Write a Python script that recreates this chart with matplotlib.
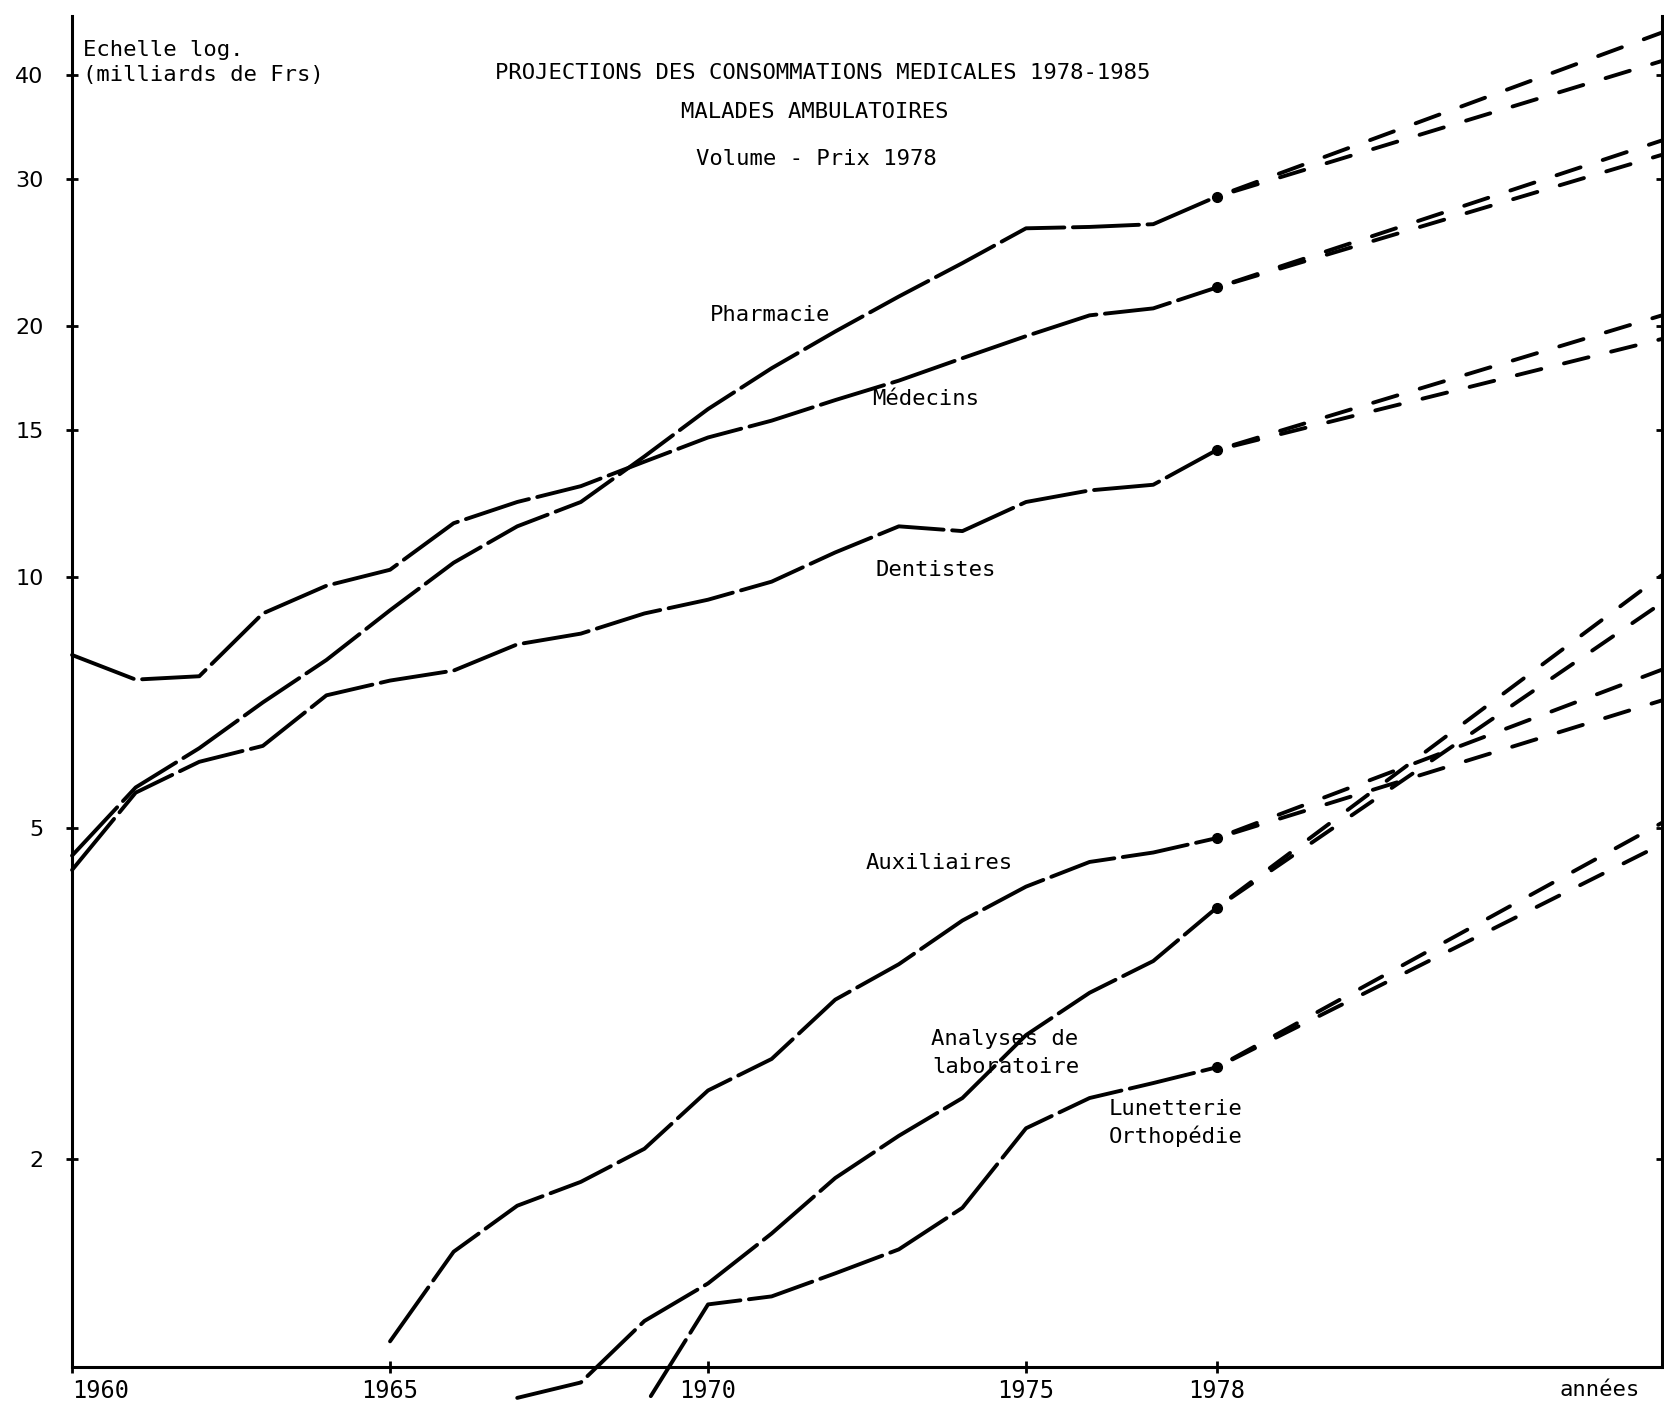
import numpy as np
import matplotlib
matplotlib.use("Agg")
import matplotlib.pyplot as plt
from matplotlib.ticker import NullLocator

# values (milliards de Frs, volume prix 1978)
years = np.arange(1960, 1979)
pharmacie = [4.63, 5.59, 6.23, 7.07, 7.95, 9.12, 10.4, 11.5, 12.3, 13.95,
             15.9, 17.8, 19.7, 21.7, 23.8, 26.2, 26.3, 26.5, 28.6]
medecins = [8.06, 7.53, 7.60, 9.04, 9.76, 10.2, 11.6, 12.3, 12.85, 13.75,
            14.7, 15.4, 16.3, 17.2, 18.3, 19.45, 20.6, 21.0, 22.25]
dentistes = [4.45, 5.51, 6.0, 6.27, 7.21, 7.51, 7.72, 8.30, 8.55, 9.04,
             9.39, 9.87, 10.7, 11.5, 11.35, 12.3, 12.7, 12.9, 14.2]

aux_years = np.arange(1965, 1979)
auxiliaires = [1.21, 1.55, 1.76, 1.88, 2.06, 2.42, 2.64, 3.11, 3.43, 3.87,
               4.25, 4.55, 4.67, 4.86]

labo_years = np.arange(1967, 1979)
laboratoire = [1.035, 1.08, 1.28, 1.42, 1.63, 1.90, 2.135, 2.37, 2.82, 3.17,
               3.46, 4.01]

lunet_years = [1969.1, 1970, 1971, 1972, 1973, 1974, 1975, 1976, 1977, 1978]
lunetterie = [1.04, 1.34, 1.37, 1.46, 1.56, 1.75, 2.18, 2.37, 2.47, 2.58]

# projections 1978-1985 : hypothese haute / basse
proj_years = [1978, 1985]
proj_pharmacie = (45.0, 41.6)
proj_medecins = (33.4, 32.1)
proj_dentistes = (20.6, 19.3)
proj_auxiliaires = (7.74, 7.11)
proj_laboratoire = (10.05, 9.31)
proj_lunetterie = (5.07, 4.78)

mono = "DejaVu Sans Mono"
fs = 16

fig = plt.figure(figsize=(16.64, 14.05), dpi=100)
ax = fig.add_axes([0.0433, 0.027, 0.9555, 0.9616])
ax.set_yscale("log")
ax.set_xlim(1960, 1985)
ax.set_ylim(1.127, 47.1)

series = [
    (years, pharmacie, proj_pharmacie),
    (years, medecins, proj_medecins),
    (years, dentistes, proj_dentistes),
    (aux_years, auxiliaires, proj_auxiliaires),
    (labo_years, laboratoire, proj_laboratoire),
    (lunet_years, lunetterie, proj_lunetterie),
]

lw = 2.8
for xs, ys, proj in series:
    ax.plot(xs, ys, color="black", lw=lw, linestyle=(0, (17, 2.2)),
            dash_capstyle="round", solid_capstyle="round", clip_on=False)
    last = ys[-1]
    for end in proj:
        ax.plot(proj_years, [last, end], color="black", lw=lw,
                linestyle=(8, (6.5, 6)), dash_capstyle="round", clip_on=False)
    ax.plot(1978, last, "o", color="black", ms=7, clip_on=False)

# axes styling
ax.spines["top"].set_visible(False)
for s in ["left", "bottom", "right"]:
    ax.spines[s].set_linewidth(2.2)

ax.set_yticks([2, 5, 10, 15, 20, 30, 40])
ax.set_yticklabels(["2", "5", "10", "15", "20", "30", "40"],
                   fontfamily="DejaVu Sans", fontsize=16)
ax.yaxis.set_minor_locator(NullLocator())
ax.tick_params(axis="y", direction="inout", length=9, width=2, pad=16,
               right=True, labelright=False)

ax.set_xticks([1960, 1965, 1970, 1975, 1978])
ax.set_xticklabels(["1960", "1965", "1970", "1975", "1978"],
                   fontfamily=mono, fontsize=17)
ax.tick_params(axis="x", direction="inout", length=9, width=2, pad=4)
ax.get_xticklabels()[0].set_horizontalalignment("left")

# titles and labels
ax.text(1960.17, 42.9, "Echelle log.", fontfamily=mono, fontsize=fs, va="center")
ax.text(1960.17, 40.0, "(milliards de Frs)", fontfamily=mono, fontsize=fs, va="center")
ax.text(1971.8, 40.2, "PROJECTIONS DES CONSOMMATIONS MEDICALES 1978-1985",
        fontfamily=mono, fontsize=fs, ha="center", va="center")
ax.text(1971.68, 36.1, "MALADES AMBULATOIRES",
        fontfamily=mono, fontsize=fs, ha="center", va="center")
ax.text(1971.7, 31.7, "Volume - Prix 1978",
        fontfamily=mono, fontsize=fs, ha="center", va="center")

ax.text(1970.03, 20.6, "Pharmacie", fontfamily=mono, fontsize=fs, va="center")
ax.text(1972.58, 16.35, "Médecins", fontfamily=mono, fontsize=fs, va="center")
ax.text(1972.63, 10.2, "Dentistes", fontfamily=mono, fontsize=fs, va="center")
ax.text(1972.48, 4.54, "Auxiliaires", fontfamily=mono, fontsize=fs, va="center")
ax.text(1973.5, 2.79, "Analyses de", fontfamily=mono, fontsize=fs, va="center")
ax.text(1973.53, 2.58, "laboratoire", fontfamily=mono, fontsize=fs, va="center")
ax.text(1976.3, 2.30, "Lunetterie", fontfamily=mono, fontsize=fs, va="center")
ax.text(1976.3, 2.13, "Orthopédie", fontfamily=mono, fontsize=fs, va="center")

fig.text(1600 / 1664, 1 - 1390 / 1405, "années", fontfamily=mono, fontsize=fs,
         ha="center", va="center")

fig.savefig("out.png", dpi=100, facecolor="white")
